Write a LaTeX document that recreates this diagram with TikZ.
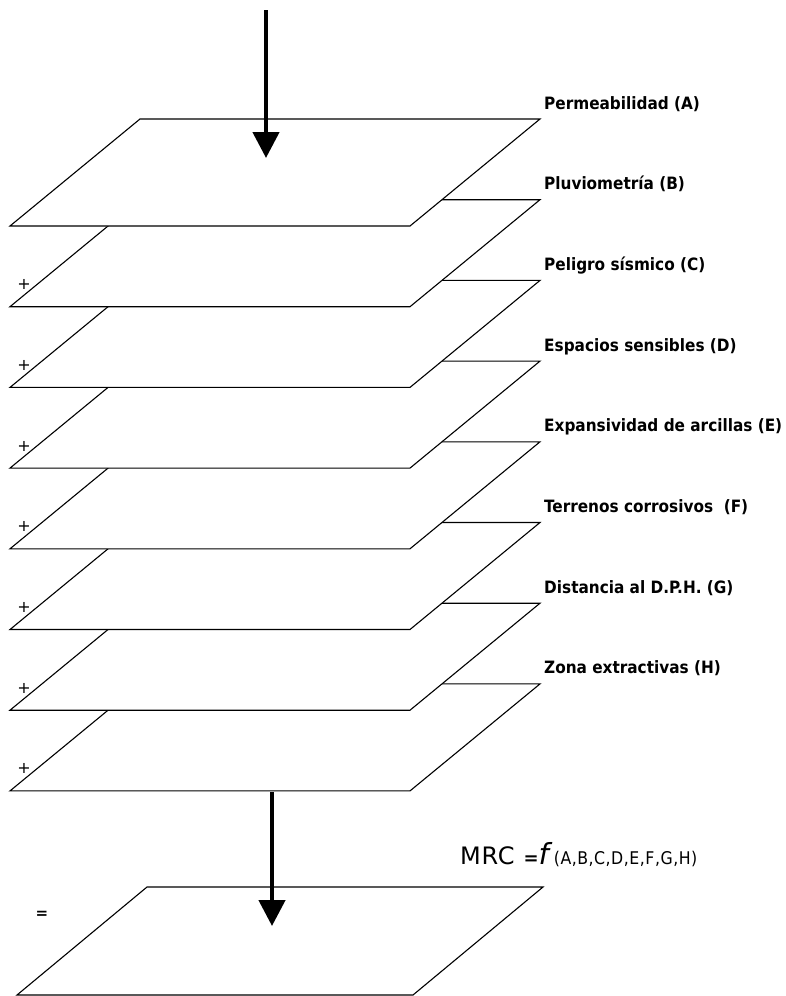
\documentclass[tikz,border=0pt]{standalone}
\usepackage{fontspec}
\setmainfont{DejaVu Sans}
\newfontfamily\condfont{DejaVu Sans Condensed}
\usetikzlibrary{arrows.meta}
\begin{document}
\begin{tikzpicture}[x=1pt,y=-1pt,
  plate/.style={draw=black,fill=white,line width=1.1pt,line join=miter},
  lbl/.style={anchor=base west,inner sep=0pt,font=\condfont\fontsize{17}{20}\selectfont\bfseries},
  plussign/.style={inner sep=0pt,font=\fontsize{16}{16}\selectfont},
  bigarrow/.style={line width=4.5pt,-{Triangle[width=26pt,length=26pt]}}]
\useasboundingbox (0,0) rectangle (786,996);
% stacked layers, drawn from bottom to top
\foreach \k in {7,6,...,0}{
  \pgfmathsetmacro\yt{119+80.7*\k}
  \pgfmathsetmacro\yb{\yt+107}
  \draw[plate] (140,\yt) -- (540,\yt) -- (410,\yb) -- (10,\yb) -- cycle;
}
% plus signs
\foreach \k in {1,...,7}{
  \pgfmathsetmacro\yp{119+80.7*\k+107-22}
  \node[plussign] (plus\k) at (24,\yp) {+};
}
% labels
\foreach \t [count=\i from 0] in {Permeabilidad (A),Pluviometría (B),Peligro sísmico (C),Espacios sensibles (D),Expansividad de arcillas (E),Terrenos corrosivos\ \ (F),Distancia al D.P.H. (G),Zona extractivas (H)}{
  \pgfmathsetmacro\yl{109+80.7*\i}
  \node[lbl] (lab\i) at (544,\yl) {\t};
}
% top arrow
\coordinate (topstart) at (266,10);
\coordinate (toptip) at (266,158);
\draw[bigarrow] (topstart) -- (toptip);
% output layer
\draw[plate] (147,887) -- (543,887) -- (413,995) -- (17,995) -- cycle;
\node[inner sep=0pt,font=\fontsize{15}{15}\selectfont\bfseries] (eq) at (42,915) {=};
\coordinate (botstart) at (272,792);
\coordinate (bottip) at (272,926);
\draw[bigarrow] (botstart) -- (bottip);
% formula
\node[anchor=base west,inner sep=0pt] (mrc) at (460,864)
  {{\fontsize{24}{24}\selectfont\addfontfeature{LetterSpace=3}MRC}\hspace{9pt}{\fontsize{18}{18}\selectfont\bfseries =}\hspace{0pt}{\fontsize{29}{29}\selectfont$\mathbf{\mathit{f}}$}\hspace{5pt}{\condfont\fontsize{17.5}{18}\selectfont\addfontfeature{LetterSpace=3}(A,B,C,D,E,F,G,H)}};
\end{tikzpicture}
\end{document}
